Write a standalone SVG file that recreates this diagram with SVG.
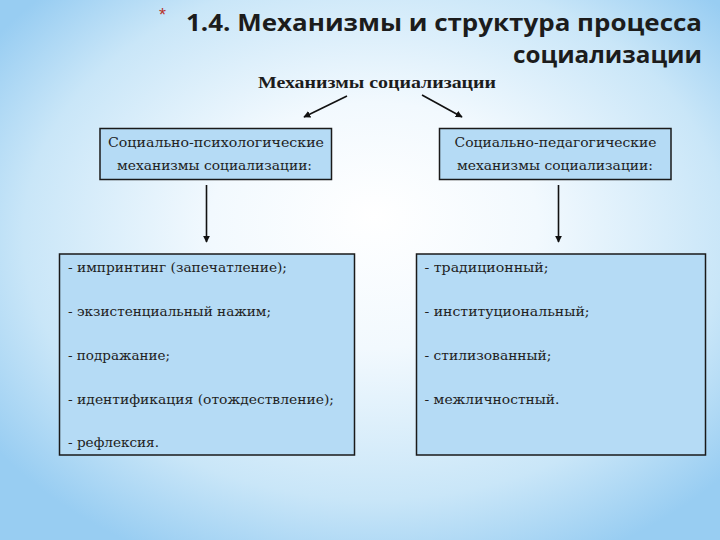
<svg xmlns="http://www.w3.org/2000/svg" width="720" height="540" viewBox="0 0 720 540">
<defs>
<radialGradient id="bg" cx="52%" cy="45%" r="65%" fx="52%" fy="40%">
<stop offset="0" stop-color="#ffffff"/>
<stop offset="0.35" stop-color="#f2f9fe"/>
<stop offset="0.75" stop-color="#c9e6f8"/>
<stop offset="1" stop-color="#98cdf2"/>
</radialGradient>
<marker id="ah" viewBox="0 0 10 10" refX="9" refY="5" markerWidth="7" markerHeight="7" orient="auto" markerUnits="userSpaceOnUse">
<path d="M0,0 L10,5 L0,10 z" fill="#111"/>
</marker>
<style>
.box{fill:#b5dbf5;stroke:#1a1a1a;stroke-width:1.5}
.hd{font-family:"DejaVu Serif","Liberation Serif",serif;font-size:13px;fill:#222}
.it{font-family:"DejaVu Serif","Liberation Serif",serif;font-size:13.5px;fill:#222}
.conn{stroke:#111;stroke-width:1.6;fill:none;marker-end:url(#ah)}
</style>
</defs>
<rect x="0" y="0" width="720" height="540" fill="url(#bg)"/>
<g id="title">
<text x="159" y="21" font-family="Liberation Sans, sans-serif" font-size="18" fill="#b8322a">*</text>
<text x="702" y="31" text-anchor="end" font-family="Open Sans, Liberation Sans, sans-serif" font-weight="bold" font-size="24" fill="#1c1c1c" textLength="516" lengthAdjust="spacingAndGlyphs">1.4. Механизмы и структура процесса</text>
<text x="702" y="63" text-anchor="end" font-family="Open Sans, Liberation Sans, sans-serif" font-weight="bold" font-size="24" fill="#1c1c1c" textLength="189" lengthAdjust="spacingAndGlyphs">социализации</text>
</g>
<g id="root">
<text x="258" y="88" font-family="Liberation Serif, serif" font-weight="bold" font-size="17" fill="#1c1c1c" textLength="238" lengthAdjust="spacingAndGlyphs">Механизмы социализации</text>
</g>
<g id="connectors">
<line class="conn" x1="347" y1="96" x2="304" y2="117"/>
<line class="conn" x1="422" y1="95" x2="462" y2="117"/>
<line class="conn" x1="206.5" y1="185" x2="206.5" y2="242"/>
<line class="conn" x1="558.5" y1="185" x2="558.5" y2="242"/>
</g>
<g id="psych">
<rect class="box" x="100" y="128.5" width="231.5" height="51"/>
<text class="hd" x="108" y="147" textLength="216" lengthAdjust="spacingAndGlyphs">Социально-психологические</text>
<text class="hd" x="117" y="169.5" textLength="195" lengthAdjust="spacingAndGlyphs">механизмы социализации:</text>
</g>
<g id="ped">
<rect class="box" x="439.5" y="128.5" width="231.5" height="51"/>
<text class="hd" x="454.5" y="147" textLength="202" lengthAdjust="spacingAndGlyphs">Социально-педагогические</text>
<text class="hd" x="457" y="169.5" textLength="196" lengthAdjust="spacingAndGlyphs">механизмы социализации:</text>
</g>
<g id="psych-list">
<rect class="box" x="59.5" y="254" width="295" height="201"/>
<text class="it" x="68" y="272" textLength="219" lengthAdjust="spacingAndGlyphs">- импринтинг (запечатление);</text>
<text class="it" x="68" y="316" textLength="203" lengthAdjust="spacingAndGlyphs">- экзистенциальный нажим;</text>
<text class="it" x="68" y="360" textLength="102" lengthAdjust="spacingAndGlyphs">- подражание;</text>
<text class="it" x="68" y="403.5" textLength="266" lengthAdjust="spacingAndGlyphs">- идентификация (отождествление);</text>
<text class="it" x="68" y="447" textLength="91" lengthAdjust="spacingAndGlyphs">- рефлексия.</text>
</g>
<g id="ped-list">
<rect class="box" x="416.5" y="254" width="289" height="201"/>
<text class="it" x="424.5" y="272" textLength="124" lengthAdjust="spacingAndGlyphs">- традиционный;</text>
<text class="it" x="424.5" y="316" textLength="165" lengthAdjust="spacingAndGlyphs">- институциональный;</text>
<text class="it" x="424.5" y="360" textLength="127" lengthAdjust="spacingAndGlyphs">- стилизованный;</text>
<text class="it" x="424.5" y="403.5" textLength="135" lengthAdjust="spacingAndGlyphs">- межличностный.</text>
</g>
</svg>
